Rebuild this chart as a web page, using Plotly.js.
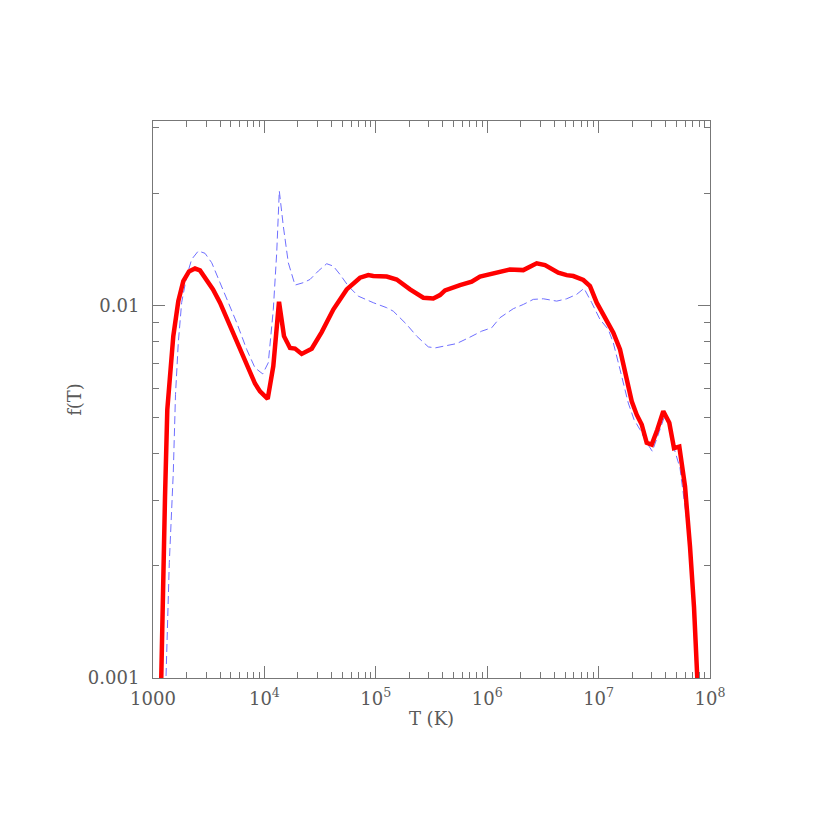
<!DOCTYPE html>
<html>
<head>
<meta charset="utf-8">
<script src="https://cdn.plot.ly/plotly-3.0.1.min.js"></script>
<style>html,body{margin:0;padding:0;background:#fff;}#chart{width:830px;height:830px;}</style>
</head>
<body>
<div id="chart"></div>
<script>
// Red (thick solid) series
var redT = [1180,1222,1282,1344,1421,1521,1687,1871,2105,2382,2642,3034,3456,3995,4712,5640,6427,7425,8233,9131,9918,10705,12020,13524,14996,16977,18826,21614,26582,32682,41535,54800,72150,85640,94970,125300,154000,202800,267000,328200,376900,418000,569900,726000,861500,1217000,1602000,2109000,2782000,3303000,4347000,5172000,5929000,7290000,8372000,9616000,11420000,13550000,15570000,17880000,19830000,21980000,24370000,27030000,29980000,33640000,38080000,43110000,47520000,53030000,59660000,66150000,71860000,76910000,78040000];
var redF = [0.00093,0.00169,0.00307,0.00525,0.00632,0.00827,0.01027,0.01162,0.01234,0.01256,0.01242,0.01174,0.01104,0.01017,0.00906,0.00794,0.00725,0.00659,0.00617,0.00588,0.00576,0.00561,0.00687,0.01023,0.00827,0.00769,0.00766,0.00741,0.00765,0.00848,0.00975,0.01104,0.01187,0.01206,0.01199,0.01195,0.01174,0.01104,0.01049,0.01044,0.01066,0.01097,0.01134,0.01158,0.01195,0.01224,0.01249,0.01244,0.01297,0.01283,0.01224,0.01206,0.01199,0.01170,0.01127,0.01017,0.00927,0.00845,0.00762,0.00632,0.00553,0.00509,0.00479,0.00428,0.00423,0.00464,0.00520,0.00484,0.00414,0.00418,0.00327,0.00225,0.00155,0.00100,0.000873];

// Blue (thin dashed) series
var blueT = [1300,1308,1401,1521,1592,1687,1809,2007,2226,2551,2930,3365,3995,4742,5640,6936,8233,9654,10840,12020,12900,13610,14780,16390,18830,22350,25670,30470,36240,41540,47710,56640,69650,94970,125300,143600,189400,233000,296000,340000,432900,532300,700700,892500,1097000,1303000,1715000,2109000,2593000,3189000,4206000,5172000,6360000,7396000,8674000,10290000,12220000,13550000,15570000,18470000,20790000,23530000,27030000,30340000,35070000,38650000,43110000,47520000,53790000,61790000,68480000,73350000,75960000,76910000];
var blueF = [0.000873,0.00100,0.00204,0.00356,0.00576,0.00795,0.01019,0.01199,0.01330,0.01400,0.01380,0.01302,0.01151,0.01017,0.00899,0.00762,0.00680,0.00655,0.00702,0.00975,0.01386,0.02029,0.01633,0.01302,0.01134,0.01151,0.01174,0.01237,0.01294,0.01275,0.01211,0.01127,0.01059,0.01017,0.00986,0.00965,0.00889,0.00827,0.00774,0.00769,0.00782,0.00790,0.00822,0.00853,0.00871,0.00927,0.00980,0.01006,0.01038,0.01042,0.01027,0.01042,0.01071,0.01111,0.01017,0.00917,0.00862,0.00794,0.00673,0.00547,0.00494,0.00464,0.00428,0.00406,0.00459,0.00499,0.00479,0.00414,0.00366,0.00266,0.00183,0.00121,0.00100,0.000873];

// Tick labels
var xTickVals = [1000,1e4,1e5,1e6,1e7,1e8];
var xTickText = ['1000','10<sup>4</sup>','10<sup>5</sup>','10<sup>6</sup>','10<sup>7</sup>','10<sup>8</sup>'];
var yTickVals = [0.001,0.01];
var yTickText = ['0.001','0.01'];

function minorLog(d0, d1) {
  var out = [];
  for (var d = d0; d < d1; d++) {
    for (var k = 2; k <= 9; k++) out.push(k * Math.pow(10, d));
  }
  return out;
}

var axisColor = '#777';
var fontFam = '"DejaVu Serif", "Liberation Serif", serif';
var textColor = '#5a5a5a';

var traces = [
  {x: blueT, y: blueF, type: 'scatter', mode: 'lines',
   line: {color: '#6f6fff', width: 1, dash: '8px,4px'}, hoverinfo: 'skip'},
  {x: redT, y: redF, type: 'scatter', mode: 'lines',
   line: {color: '#ff0000', width: 4.5}, hoverinfo: 'skip'}
];

var common = {
  type: 'log', showline: true, linecolor: axisColor, linewidth: 1,
  mirror: 'allticks', ticks: 'inside', ticklen: 12, tickcolor: axisColor, tickwidth: 1,
  showgrid: false, zeroline: false, tickmode: 'array',
  tickfont: {family: fontFam, size: 18, color: textColor}
};

var layout = {
  width: 830, height: 830,
  margin: {l: 153, r: 120, t: 121, b: 152},
  paper_bgcolor: '#fff', plot_bgcolor: '#fff',
  showlegend: false,
  xaxis: Object.assign({}, common, {
    range: [3, 8], tickvals: xTickVals, ticktext: xTickText,
    ticklabelstandoff: 4,
    minor: {tickmode: 'array', tickvals: minorLog(3, 8), ticks: 'inside', ticklen: 6, tickcolor: axisColor, showgrid: false},
    title: {text: 'T (K)', font: {family: fontFam, size: 18, color: textColor}, standoff: 4}
  }),
  yaxis: Object.assign({}, common, {
    range: [-3, -1.505], tickvals: yTickVals, ticktext: yTickText,
    ticklabelstandoff: 9,
    minor: {tickmode: 'array', tickvals: minorLog(-3, -1), ticks: 'inside', ticklen: 6, tickcolor: axisColor, showgrid: false},
    title: {text: 'f(T)', font: {family: fontFam, size: 18, color: textColor}, standoff: 1}
  })
};

Plotly.newPlot('chart', traces, layout, {staticPlot: true, displayModeBar: false});
</script>
</body>
</html>
